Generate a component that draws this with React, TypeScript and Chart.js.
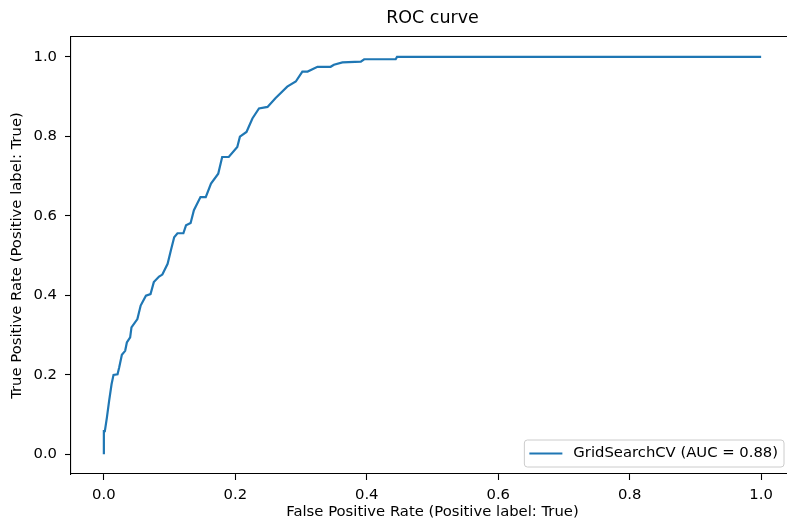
import React, { useEffect, useRef } from "react";
import { Chart, registerables } from "chart.js";

Chart.register(...registerables);

const chartTitle = "ROC curve";
const xAxisLabel = "False Positive Rate (Positive label: True)";
const yAxisLabel = "True Positive Rate (Positive label: True)";
const seriesLabel = "GridSearchCV (AUC = 0.88)";
const tickValues = [0, 0.2, 0.4, 0.6, 0.8, 1.0];

const fpr = [
  0, 0, 0.0015, 0.0046, 0.008, 0.0117, 0.0147, 0.0208, 0.0233, 0.0274, 0.0324,
  0.035, 0.04, 0.042, 0.051, 0.056, 0.064, 0.071, 0.076, 0.084, 0.089, 0.097,
  0.102, 0.107, 0.112, 0.121, 0.125, 0.132, 0.137, 0.147, 0.155, 0.163, 0.174,
  0.18, 0.19, 0.203, 0.207, 0.217, 0.226, 0.236, 0.249, 0.261, 0.279, 0.292,
  0.302, 0.31, 0.325, 0.345, 0.35, 0.363, 0.391, 0.396, 0.444, 0.446, 1.0,
];
const tpr = [
  0, 0.058, 0.058, 0.092, 0.134, 0.176, 0.1995, 0.201, 0.218, 0.25, 0.26,
  0.281, 0.294, 0.319, 0.34, 0.374, 0.399, 0.403, 0.433, 0.447, 0.452, 0.479,
  0.513, 0.546, 0.556, 0.556, 0.576, 0.582, 0.614, 0.647, 0.647, 0.681, 0.706,
  0.748, 0.748, 0.773, 0.799, 0.811, 0.845, 0.87, 0.874, 0.896, 0.925, 0.938,
  0.963, 0.963, 0.975, 0.975, 0.98, 0.986, 0.988, 0.994, 0.994, 1.0, 1.0,
];

const FONT = "'DejaVu Sans', sans-serif";
const FS = 14.8;
const LINE_COLOR = "#1f77b4";

export default function App() {
  const ref = useRef<HTMLCanvasElement | null>(null);

  useEffect(() => {
    const canvas = ref.current;
    if (!canvas) return;

    const frame = {
      id: "frame",
      afterDraw(chart: any) {
        const { ctx, chartArea } = chart;
        ctx.save();
        ctx.strokeStyle = "#000";
        ctx.lineWidth = 1.1;
        ctx.beginPath();
        ctx.moveTo(chartArea.left, chartArea.top - 0.5);
        ctx.lineTo(chartArea.right, chartArea.top - 0.5);
        ctx.lineTo(chartArea.right, chartArea.bottom);
        ctx.stroke();
        // title
        ctx.fillStyle = "#000";
        ctx.font = `17.5px ${FONT}`;
        ctx.textAlign = "center";
        ctx.textBaseline = "middle";
        ctx.fillText(chartTitle, (chartArea.left + chartArea.right) / 2, 18);
        // legend
        const label = chart.data.datasets[0].label;
        ctx.font = `${FS}px ${FONT}`;
        const tw = ctx.measureText(label).width;
        const w = 49 + tw + 6;
        const h = 27;
        const right = chartArea.right - 10;
        const bottom = chartArea.bottom - 7;
        const left = right - w;
        const top = bottom - h;
        ctx.beginPath();
        const r = 3;
        ctx.moveTo(left + r, top);
        ctx.lineTo(right - r, top);
        ctx.quadraticCurveTo(right, top, right, top + r);
        ctx.lineTo(right, bottom - r);
        ctx.quadraticCurveTo(right, bottom, right - r, bottom);
        ctx.lineTo(left + r, bottom);
        ctx.quadraticCurveTo(left, bottom, left, bottom - r);
        ctx.lineTo(left, top + r);
        ctx.quadraticCurveTo(left, top, left + r, top);
        ctx.closePath();
        ctx.fillStyle = "rgba(255,255,255,0.8)";
        ctx.fill();
        ctx.strokeStyle = "#cccccc";
        ctx.lineWidth = 1;
        ctx.stroke();
        const cy = top + h / 2;
        ctx.beginPath();
        ctx.strokeStyle = LINE_COLOR;
        ctx.lineWidth = 2.2;
        ctx.moveTo(left + 5, cy);
        ctx.lineTo(left + 38, cy);
        ctx.stroke();
        ctx.fillStyle = "#000";
        ctx.textAlign = "left";
        ctx.textBaseline = "middle";
        ctx.fillText(label, left + 49, cy);
        ctx.restore();
      },
    };

    const points = fpr.map((x, i) => ({ x, y: tpr[i] }));

    const tickCfg = {
      color: "#000",
      font: { family: FONT, size: FS },
      callback: (v: any) => Number(v).toFixed(1),
    };

    const chart = new Chart(canvas, {
      type: "scatter",
      data: {
        datasets: [
          {
            label: seriesLabel,
            data: points,
            showLine: true,
            borderColor: LINE_COLOR,
            backgroundColor: LINE_COLOR,
            borderWidth: 2.2,
            pointRadius: 0,
            pointHoverRadius: 0,
            tension: 0,
          },
        ],
      },
      plugins: [frame],
      options: {
        responsive: false,
        animation: false,
        events: [],
        layout: { padding: { left: 0, right: 6, top: 37, bottom: 0 } },
        plugins: {
          legend: { display: false },
          title: { display: false },
          tooltip: { enabled: false },
        },
        scales: {
          x: {
            type: "linear",
            min: -0.05,
            max: 1.05,
            afterBuildTicks: (s: any) => {
              s.ticks = tickValues.map((v) => ({ value: v }));
            },
            afterFit: (s: any) => {
              s.height = 53;
            },
            grid: {
              drawOnChartArea: false,
              drawTicks: true,
              tickLength: 6,
              tickColor: "#000",
              tickWidth: 1.1,
            },
            border: { display: true, color: "#000", width: 1.1 },
            ticks: { ...tickCfg, padding: 6, maxRotation: 0 },
            title: {
              display: true,
              text: xAxisLabel,
              color: "#000",
              font: { family: FONT, size: FS },
              padding: { top: 0, bottom: 6 },
            },
          },
          y: {
            type: "linear",
            min: -0.05,
            max: 1.05,
            afterBuildTicks: (s: any) => {
              s.ticks = tickValues.map((v) => ({ value: v }));
            },
            afterFit: (s: any) => {
              s.width = 71;
            },
            grid: {
              drawOnChartArea: false,
              drawTicks: true,
              tickLength: 6,
              tickColor: "#000",
              tickWidth: 1.1,
            },
            border: { display: true, color: "#000", width: 1.1 },
            ticks: { ...tickCfg, padding: 8 },
            title: {
              display: true,
              text: yAxisLabel,
              color: "#000",
              font: { family: FONT, size: FS },
              padding: { top: 8, bottom: 0 },
            },
          },
        },
      },
    } as any);

    return () => chart.destroy();
  }, []);

  return (
    <div
      style={{
        position: "fixed",
        left: 0,
        top: 0,
        width: 787,
        height: 527,
        overflow: "hidden",
        background: "#fff",
      }}
    >
      <canvas ref={ref} width={800} height={527} style={{ width: 800, height: 527, display: "block" }} />
    </div>
  );
}
